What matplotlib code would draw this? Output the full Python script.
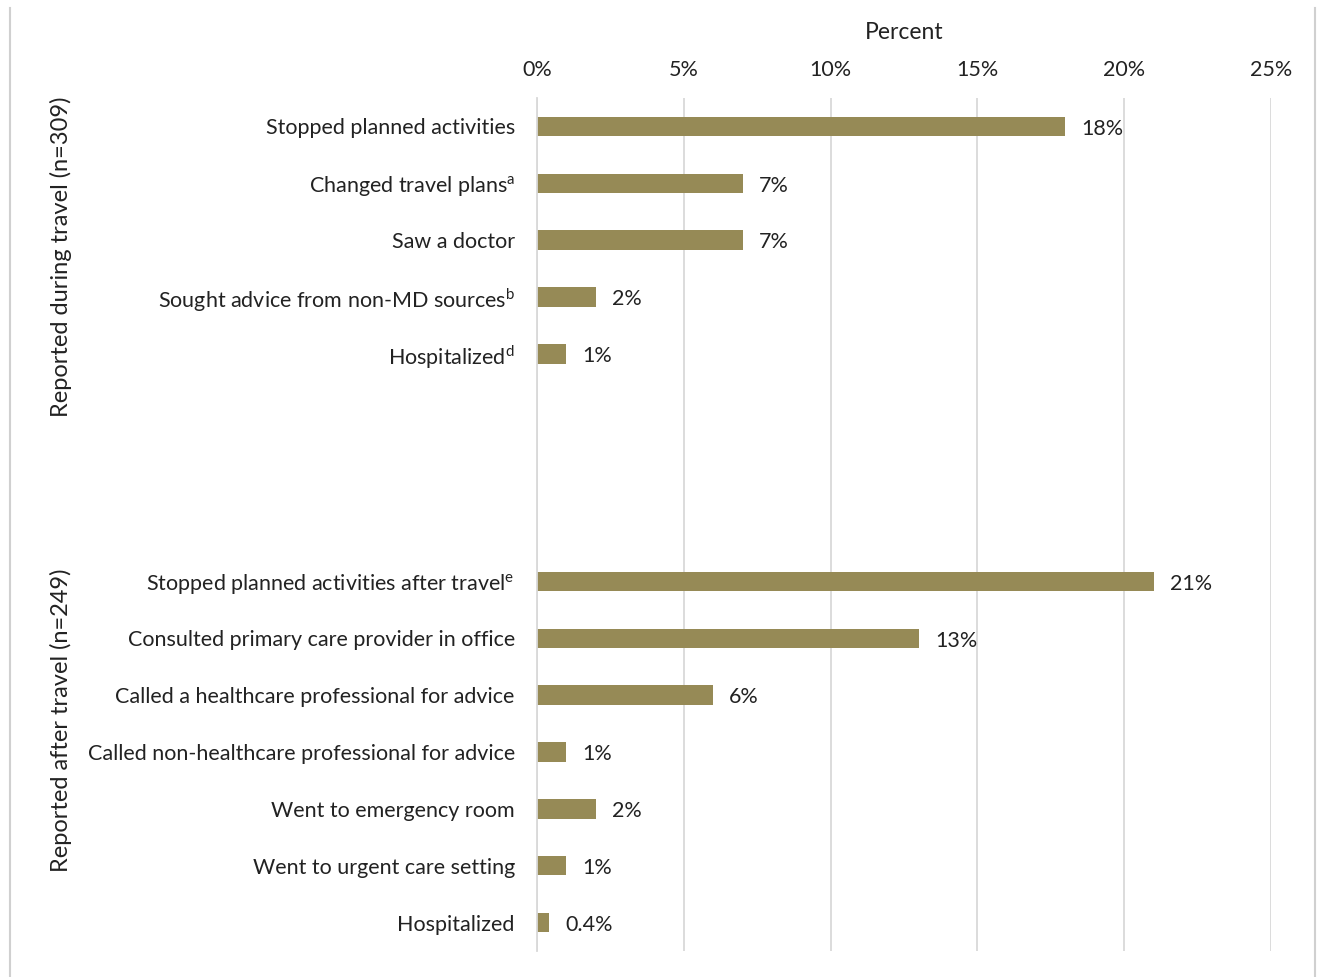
import numpy as np
import matplotlib.pyplot as plt
from matplotlib.lines import Line2D

plt.rcParams['font.family'] = ['Lato', 'DejaVu Sans']

during_labels = ["Stopped planned activities", "Changed travel plans$^{\\mathregular{a}}$",
                 "Saw a doctor", "Sought advice from non-MD sources$^{\\mathregular{b}}$",
                 "Hospitalized$^{\\mathregular{d}}$"]
during_values = [18, 7, 7, 2, 1]
during_text = ["18%", "7%", "7%", "2%", "1%"]

after_labels = ["Stopped planned activities after travel$^{\\mathregular{e}}$",
                "Consulted primary care provider in office",
                "Called a healthcare professional for advice",
                "Called non-healthcare professional for advice",
                "Went to emergency room", "Went to urgent care setting", "Hospitalized"]
after_values = [21, 13, 6, 1, 2, 1, 0.4]
after_text = ["21%", "13%", "6%", "1%", "2%", "1%", "0.4%"]

pos_during = np.arange(len(during_values))
pos_after = np.arange(len(after_values)) + 8

bar_color = "#968A56"
grid_color = "#D9D9D9"
txt = "#222222"

fig = plt.figure(figsize=(13.18, 9.77), dpi=100)
ax = fig.add_axes([537/1318, 1 - 951/977, (1271-537)/1318, (951-98)/977])

ax.barh(pos_during, during_values, height=0.34, color=bar_color)
ax.barh(pos_after, after_values, height=0.34, color=bar_color)

for p, v, t in zip(pos_during, during_values, during_text):
    ax.text(v + 0.55, p + 0.04, t, va="center", ha="left", fontsize=15.5, color=txt)
for p, v, t in zip(pos_after, after_values, after_text):
    ax.text(v + 0.55, p + 0.04, t, va="center", ha="left", fontsize=15.5, color=txt)

ax.set_xlim(0, 25)
ax.set_ylim(14.5, -0.5)
ax.set_xticks(np.arange(0, 26, 5))
ax.set_xticklabels([f"{v}%" for v in range(0, 26, 5)], fontsize=15.5, color=txt)
ax.xaxis.tick_top()
ax.xaxis.set_label_position("top")
ax.set_xlabel("Percent", fontsize=16.5, color=txt, labelpad=15)
ax.tick_params(axis="x", length=0, pad=13)
ax.tick_params(axis="y", length=0, pad=16)

ax.set_yticks(np.concatenate([pos_during, pos_after]))
ax.set_yticklabels(during_labels + after_labels, fontsize=15.5, color=txt)

ax.grid(axis="x", color=grid_color, linewidth=1.3)
ax.set_axisbelow(True)
for s in ["top", "right", "bottom"]:
    ax.spines[s].set_visible(False)
ax.spines["left"].set_color(grid_color)
ax.spines["left"].set_linewidth(1.3)

ax.text(-16.2, 2.29, "Reported during travel (n=309)", rotation=90, va="center", ha="center",
        fontsize=17, color=txt)
ax.text(-16.2, 10.45, "Reported after travel (n=249)", rotation=90, va="center", ha="center",
        fontsize=17, color=txt)

# figure frame lines
fig.add_artist(Line2D([10/1318, 10/1318], [0, 1 - 8/977], color="#D0D0D0", lw=1.5))
fig.add_artist(Line2D([1315/1318, 1315/1318], [0, 1 - 8/977], color="#D0D0D0", lw=1.5))

fig.savefig("out.png", dpi=100)
